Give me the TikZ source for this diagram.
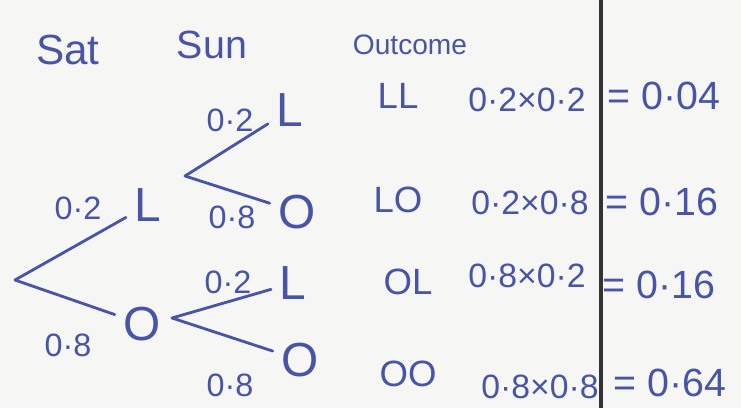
\documentclass[tikz,border=0pt]{standalone}
\usepackage{fontspec}
\setmainfont{Liberation Sans}
\usetikzlibrary{positioning}
\definecolor{ink}{RGB}{72,84,168}
\definecolor{paper}{RGB}{246,246,244}
\tikzset{
  hdr/.style={text=ink, font=\fontsize{24}{28}\selectfont, inner sep=2pt},
  evt/.style={text=ink, font=\fontsize{34}{38}\selectfont, inner sep=6pt},
  lbl/.style={text=ink, font=\fontsize{23}{27}\selectfont, inner sep=1pt},
  outc/.style={text=ink, font=\fontsize{26}{30}\selectfont, inner sep=1pt},
  calc/.style={text=ink, font=\fontsize{24}{28}\selectfont, inner sep=1pt},
  res/.style={text=ink, font=\fontsize{28}{32}\selectfont, inner sep=1pt},
  branch/.style={draw=ink, line width=2pt, line cap=round},
  rule/.style={draw=black!80, line width=2.4pt}
}
\begin{document}
\begin{tikzpicture}[x=0.025cm, y=-0.025cm]
  \fill[paper] (0,0) rectangle (741,408);
  \useasboundingbox (0,0) rectangle (741,408);
  % headings
  \node[hdr, font=\fontsize{30}{34}\selectfont] (sat) at (68,50) {Sat};
  \node[hdr, font=\fontsize{28}{32}\selectfont] (sun) at (212,45) {Sun};
  \node[hdr, font=\fontsize{20}{24}\selectfont] (outhdr) at (410,45) {Outcome};
  % tree
  \coordinate (root) at (15,280);
  \node[evt] (satL) at (148,205) {L};
  \node[evt] (satO) at (142,324) {O};
  \coordinate (forkL) at (185,176);
  \coordinate (forkO) at (172,318);
  \node[evt] (sunLL) at (290,110) {L};
  \node[evt] (sunLO) at (297,212) {O};
  \node[evt] (sunOL) at (293,283) {L};
  \node[evt] (sunOO) at (300,360) {O};
  \draw[branch] (root) -- (satL);
  \draw[branch] (root) -- (satO);
  \draw[branch] (forkL) -- (sunLL);
  \draw[branch] (forkL) -- (sunLO);
  \draw[branch] (forkO) -- (sunOL);
  \draw[branch] (forkO) -- (sunOO);
  % probabilities
  \node[lbl] (pL) at (78,208) {0·2};
  \node[lbl] (pO) at (68,345) {0·8};
  \node[lbl] (pLL) at (230,120) {0·2};
  \node[lbl] (pLO) at (232,217) {0·8};
  \node[lbl] (pOL) at (228,282) {0·2};
  \node[lbl] (pOO) at (230,385) {0·8};
  % outcomes
  \node[outc] (oLL) at (398,96) {LL};
  \node[outc] (oLO) at (398,200) {LO};
  \node[outc] (oOL) at (408,282) {OL};
  \node[outc] (oOO) at (408,374) {OO};
  \node[calc] (cLL) at (527,100) {0·2×0·2};
  \node[calc] (cLO) at (530,203) {0·2×0·8};
  \node[calc] (cOL) at (527,276) {0·8×0·2};
  \node[calc] (cOO) at (540,387) {0·8×0·8};
  \node[res] (rLL) at (664,96) {= 0·04};
  \node[res] (rLO) at (662,202) {= 0·16};
  \node[res] (rOL) at (659,285) {= 0·16};
  \node[res] (rOO) at (670,383) {= 0·64};
  \coordinate (ruletop) at (601,0);
  \coordinate (rulebot) at (601,408);
  \draw[rule] (ruletop) -- (rulebot);
\end{tikzpicture}
\end{document}
